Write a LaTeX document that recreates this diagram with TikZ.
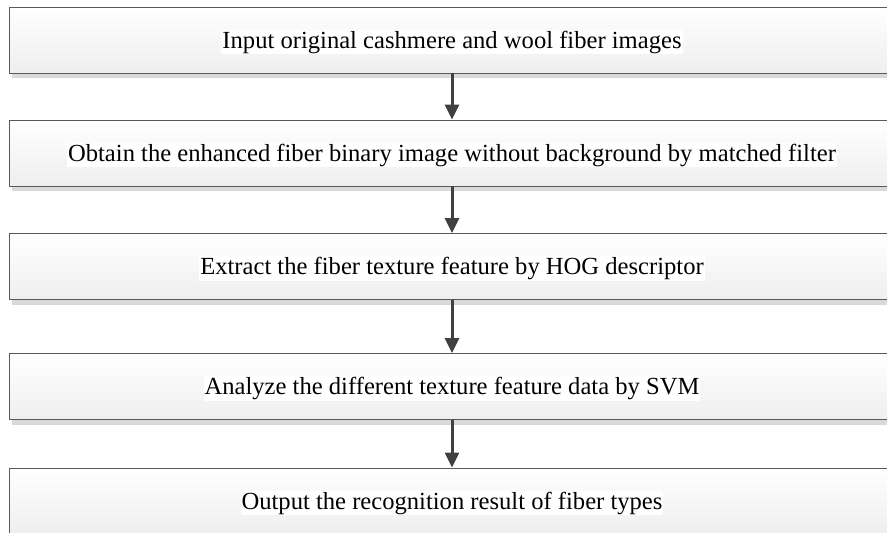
\documentclass[tikz,border=0pt]{standalone}
\usepackage{fontspec}
\setmainfont{Liberation Serif}
\usetikzlibrary{arrows.meta,shadows}

\begin{document}
\begin{tikzpicture}[x=1pt, y=-1pt, line join=round,
	stepbox/.style={rectangle, inner sep=0pt, minimum width=886pt, minimum height=66pt,
		draw=gray!70!black, line width=0.9pt, top color=white, bottom color=gray!13,
		drop shadow={shadow xshift=3pt, shadow yshift=-5pt, fill=gray!30, opacity=1}},
	steptext/.style={fill=white, inner sep=1pt, yshift=-2pt, font=\fontsize{24.6}{28}\selectfont},
	flow/.style={-{Triangle[length=15pt, width=14pt]}, line width=3pt, draw=black!75}]
	
	\useasboundingbox (0,0) rectangle (887,533);
	
	% Các bước
	\foreach \name/\y/\txt in {
		s1/40/Input original cashmere and wool fiber images,
		s2/153/Obtain the enhanced fiber binary image without background by matched filter,
		s3/266.5/Extract the fiber texture feature by HOG descriptor,
		s4/386.5/Analyze the different texture feature data by SVM,
		s5/501/Output the recognition result of fiber types
	}{
		\node[stepbox] (\name) at (452,\y) {};
		\node[steptext] (\name t) at (\name) {\txt};
	}
	
	% Mũi tên
	\foreach \a/\b in {s1/s2, s2/s3, s3/s4, s4/s5}{
		\draw[flow] (\a.south) -- (\b.north);
	}
\end{tikzpicture}
\end{document}
